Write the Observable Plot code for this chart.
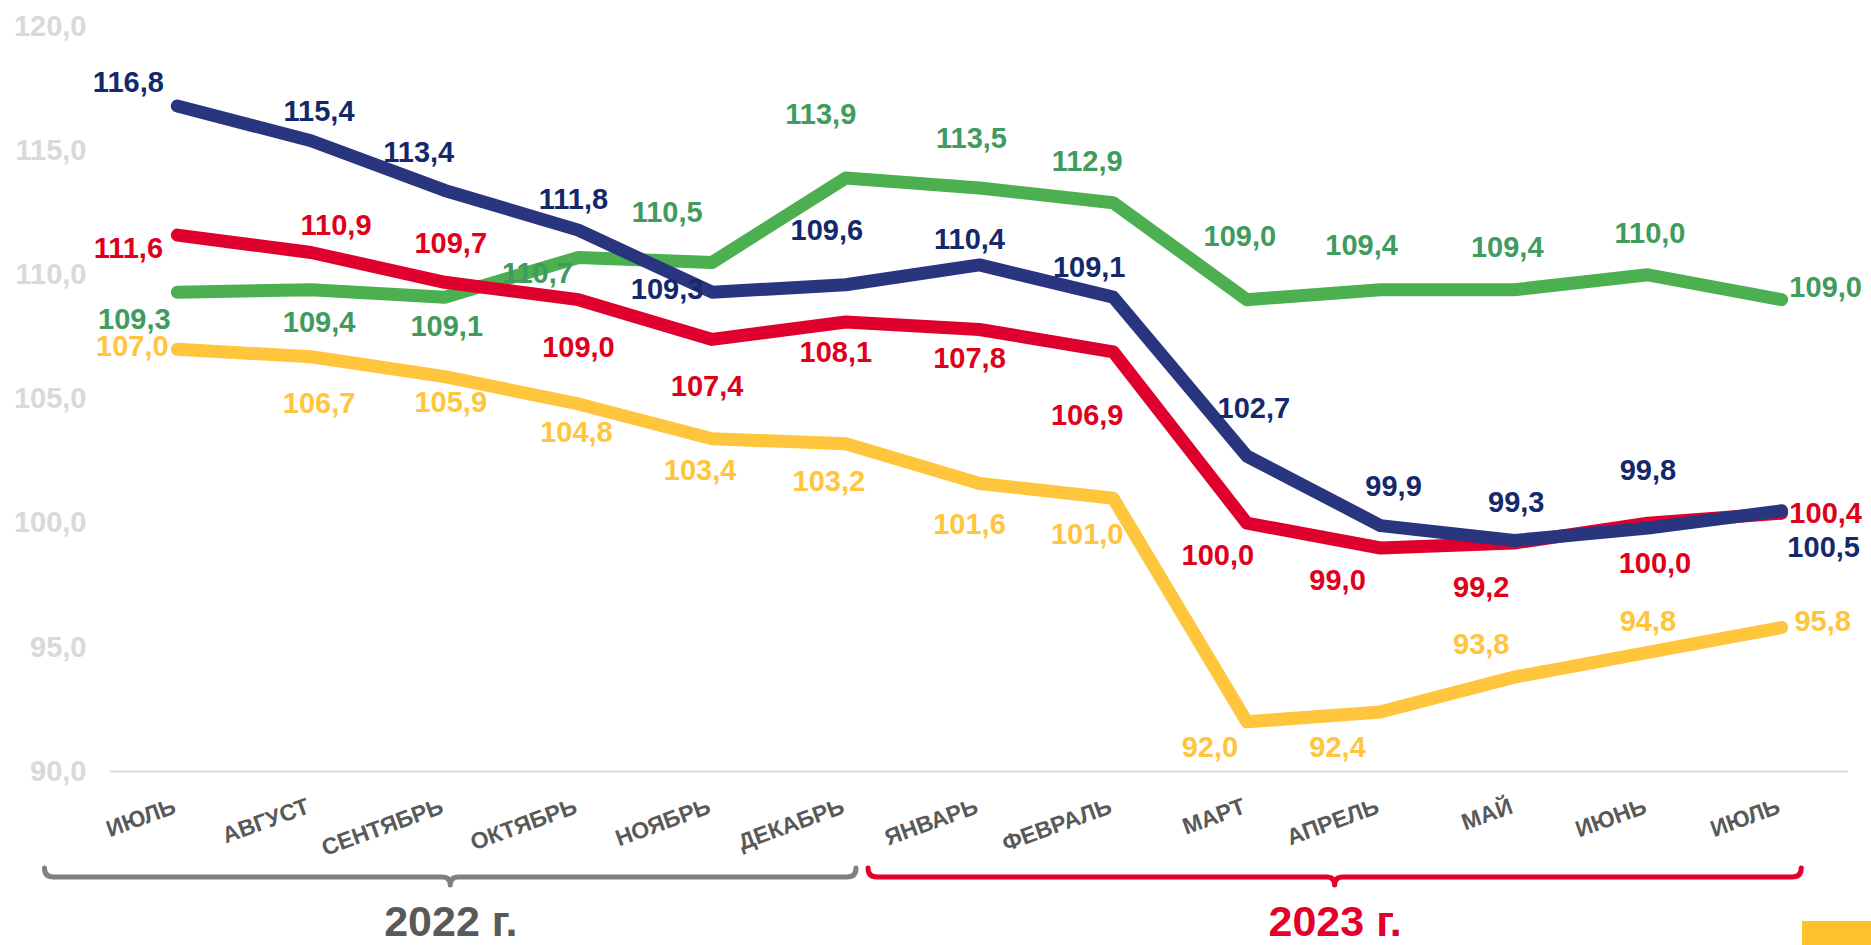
<!DOCTYPE html>
<html><head><meta charset="utf-8">
<script src="https://cdn.jsdelivr.net/npm/d3@7"></script>
<script src="https://cdn.jsdelivr.net/npm/@observablehq/plot@0.6"></script>
<style>
html,body{margin:0;padding:0;background:#fff;}
#chart{position:relative;width:1871px;height:945px;overflow:hidden;}
#swatch{position:absolute;left:1802px;top:921px;width:69px;height:24px;background:#ffc12e;}
</style></head><body>
<div id="chart"><div id="swatch"></div></div>
<script>
// ---- data ----
const months = ["ИЮЛЬ","АВГУСТ","СЕНТЯБРЬ","ОКТЯБРЬ","НОЯБРЬ","ДЕКАБРЬ","ЯНВАРЬ","ФЕВРАЛЬ","МАРТ","АПРЕЛЬ","МАЙ","ИЮНЬ","ИЮЛЬ"];
const navyValues   = [116.8,115.4,113.4,111.8,109.3,109.6,110.4,109.1,102.7,99.9,99.3,99.8,100.5];
const redValues    = [111.6,110.9,109.7,109.0,107.4,108.1,107.8,106.9,100.0,99.0,99.2,100.0,100.4];
const greenValues  = [109.3,109.4,109.1,110.7,110.5,113.9,113.5,112.9,109.0,109.4,109.4,110.0,109.0];
const yellowValues = [107.0,106.7,105.9,104.8,103.4,103.2,101.6,101.0,92.0,92.4,93.8,94.8,95.8];
const yTicks = [90,95,100,105,110,115,120];
const yearLabels = ["2022 г.","2023 г."];

// ---- label placement (pixel offsets from each point) ----
const navyOffsets   = [[-49,-23],[8,-29],[-26,-38],[-5,-30],[-45,-2],[-19,-54],[-10,-25],[-24,-29],[7,-47],[13,-39],[2,-38],[0,-57],[42,37]];
const redOffsets    = [[-49,14],[25,-27],[6,-39],[0,48],[-5,47],[-10,31],[-10,29],[-26,64],[-29,33],[-43,33],[-33,45],[7,41],[44,0]];
const greenOffsets  = [[-43,28],[8,33],[2,30],[-41,16],[-45,-50],[-25,-63],[-8,-49],[-26,-41],[-7,-63],[-19,-44],[-7,-42],[2,-41],[44,-12]];
const yellowOffsets = [[-45,-3],[8,47],[6,26],[-2,29],[-12,32],[-17,38],[-10,41],[-26,36],[-37,26],[-43,36],[-33,-32],[0,-31],[41,-6]];

const series = [
  {values: greenValues,  line: "#4caf50", text: "#3f9b5e", offsets: greenOffsets},
  {values: yellowValues, line: "#ffc53d", text: "#ffc53d", offsets: yellowOffsets},
  {values: redValues,    line: "#e0002e", text: "#e0001b", offsets: redOffsets},
  {values: navyValues,   line: "#2a3580", text: "#13296b", offsets: navyOffsets}
];
// year brackets spanning month index ranges
const brackets = [
  {label: yearLabels[0], from: -0.99, to: 5.08, stroke: "#808080", fill: "#595959"},
  {label: yearLabels[1], from: 5.17, to: 12.15, stroke: "#e4002b", fill: "#e4002b"}
];

const fmt = v => v.toFixed(1).replace(".", ",");
const font = "'Liberation Sans', Arial, sans-serif";
const marks = [];

marks.push(Plot.ruleY([90], {stroke: "#d9d9d9", strokeWidth: 2}));
marks.push(Plot.text(yTicks, {y: d => d, text: fmt, frameAnchor: "left", dx: -24, textAnchor: "end",
  fill: "#d9d9d9", fontSize: 29, fontWeight: "bold"}));

for (const s of series) {
  marks.push(Plot.line(s.values, {x: (d, i) => i, y: d => d, stroke: s.line, strokeWidth: 13,
    strokeLinecap: "round", strokeLinejoin: "round"}));
}
for (const s of series) {
  s.values.forEach((v, i) => {
    marks.push(Plot.text([v], {x: () => i, y: d => d, text: fmt, dx: s.offsets[i][0], dy: s.offsets[i][1],
      fill: s.text, fontSize: 29, fontWeight: "bold", textAnchor: "middle", lineAnchor: "middle"}));
  });
}

marks.push(Plot.text(months, {x: (d, i) => i, text: d => d, frameAnchor: "bottom", dy: 41, rotate: -20,
  textAnchor: "end", lineAnchor: "bottom", fill: "#595959", fontSize: 23, fontWeight: "bold"}));

// brackets
marks.push((index, scales, values, dims) => {
  const g = d3.create("svg:g").attr("fill", "none");
  const base = dims.height - dims.marginBottom;
  for (const b of brackets) {
    const x0 = scales.x(b.from), x1 = scales.x(b.to), xm = (x0 + x1) / 2;
    const top = base + 97, ln = base + 106, tip = base + 114, r = 9, r2 = 8;
    const p = `M${x0},${top} Q${x0},${ln} ${x0 + r},${ln} L${xm - r2},${ln} Q${xm},${ln} ${xm},${tip} ` +
              `Q${xm},${ln} ${xm + r2},${ln} L${x1 - r},${ln} Q${x1},${ln} ${x1},${top}`;
    g.append("path").attr("d", p).attr("stroke", b.stroke).attr("stroke-width", 5)
      .attr("stroke-linecap", "round").attr("stroke-linejoin", "round");
  }
  return g.node();
});
for (const b of brackets) {
  marks.push(Plot.text([b], {x: d => (d.from + d.to) / 2, text: d => d.label, frameAnchor: "bottom", dy: 164,
    lineAnchor: "bottom", fill: b.fill, fontSize: 43, fontWeight: "bold", textAnchor: "middle"}));
}

const chart = Plot.plot({
  width: 1871, height: 945,
  marginLeft: 110, marginRight: 23, marginTop: 26, marginBottom: 174,
  x: {type: "linear", domain: [-0.5, 12.5], axis: null},
  y: {domain: [90, 120], axis: null},
  style: {fontFamily: font, background: "#fff", overflow: "visible"},
  marks
});
document.getElementById("chart").prepend(chart);
</script>
</body></html>
